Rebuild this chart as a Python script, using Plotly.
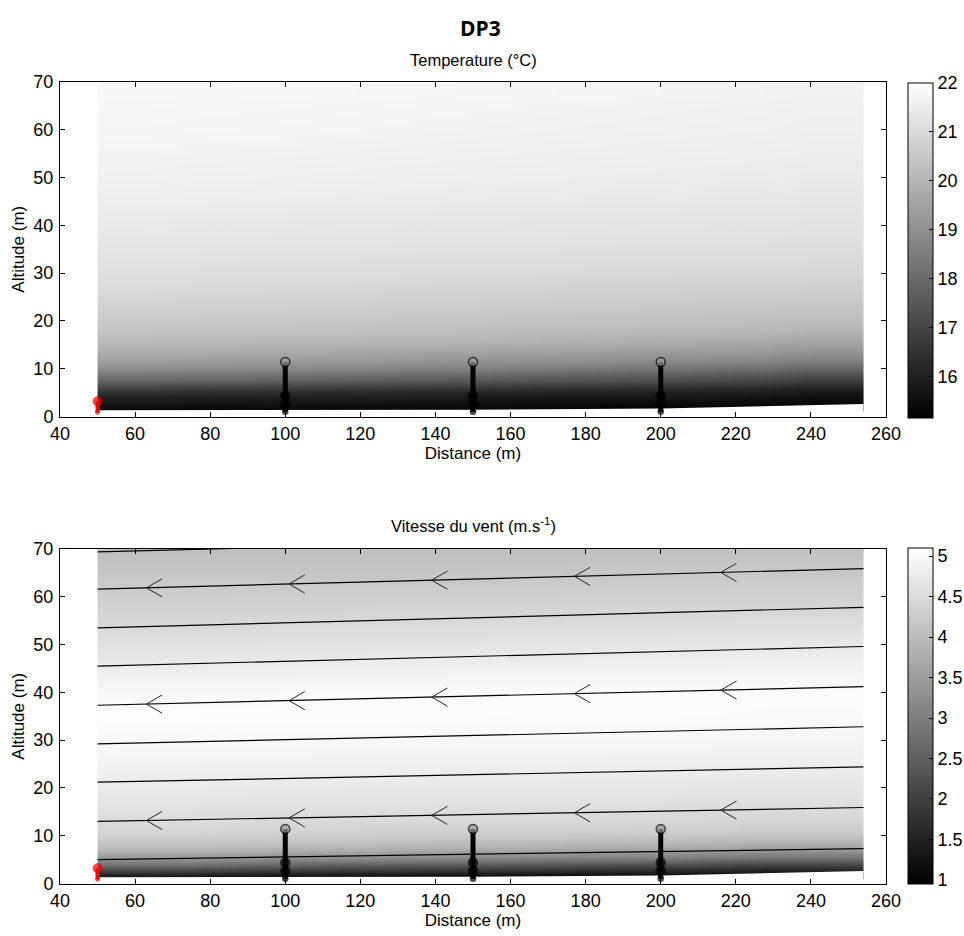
import numpy as np
import plotly.graph_objects as go

FONT = "Liberation Sans, Arial, sans-serif"

# ---------------- data ----------------
x_ticks = [40, 60, 80, 100, 120, 140, 160, 180, 200, 220, 240, 260]
alt_ticks = [0, 10, 20, 30, 40, 50, 60, 70]
temp_ticks = [16, 17, 18, 19, 20, 21, 22]
wind_ticks = [1, 1.5, 2, 2.5, 3, 3.5, 4, 4.5, 5]
wind_tick_text = ["1", "1.5", "2", "2.5", "3", "3.5", "4", "4.5", "5"]

temp_x = [50, 100, 150, 200, 254]
temp_alt = [1.0, 2, 3, 4, 5, 6, 7, 8, 10, 12, 14, 16, 18, 20, 25, 30, 35, 40, 50, 60, 70]
temp_vals = [
    [15.30, 15.30, 15.25, 15.20, 15.20],
    [15.50, 15.45, 15.40, 15.30, 15.25],
    [15.75, 15.70, 15.60, 15.50, 15.40],
    [16.00, 15.95, 15.85, 15.72, 15.55],
    [16.40, 16.30, 16.15, 16.00, 15.80],
    [17.00, 16.85, 16.65, 16.45, 16.15],
    [17.60, 17.45, 17.20, 16.95, 16.60],
    [18.15, 18.00, 17.75, 17.45, 17.05],
    [18.95, 18.80, 18.60, 18.30, 17.90],
    [19.50, 19.40, 19.20, 19.00, 18.70],
    [19.90, 19.80, 19.65, 19.45, 19.25],
    [20.20, 20.10, 20.00, 19.85, 19.65],
    [20.40, 20.35, 20.25, 20.15, 20.00],
    [20.60, 20.55, 20.45, 20.35, 20.25],
    [20.90, 20.85, 20.75, 20.65, 20.60],
    [21.15, 21.10, 21.00, 20.95, 20.90],
    [21.30, 21.25, 21.20, 21.15, 21.10],
    [21.45, 21.40, 21.35, 21.30, 21.25],
    [21.62, 21.58, 21.53, 21.48, 21.43],
    [21.74, 21.71, 21.66, 21.61, 21.56],
    [21.82, 21.79, 21.74, 21.69, 21.64],
]
temp_range = [15.15, 22.0]

wind_x = [50, 150, 254]
wind_alt = [1.0, 2, 3, 4, 5, 6, 8, 10, 12, 15, 20, 25, 30, 35, 40, 45, 50, 55, 60, 65, 70]
wind_vals = [
    [1.15, 1.05, 1.00],
    [1.60, 1.35, 1.15],
    [2.20, 1.90, 1.60],
    [2.80, 2.45, 2.10],
    [3.30, 3.00, 2.65],
    [3.70, 3.45, 3.15],
    [4.10, 3.95, 3.75],
    [4.35, 4.25, 4.15],
    [4.48, 4.42, 4.35],
    [4.60, 4.56, 4.52],
    [4.76, 4.72, 4.68],
    [4.88, 4.85, 4.82],
    [5.00, 4.97, 4.93],
    [5.06, 5.05, 5.02],
    [4.98, 5.02, 5.04],
    [4.80, 4.86, 4.90],
    [4.60, 4.66, 4.72],
    [4.44, 4.48, 4.52],
    [4.30, 4.32, 4.36],
    [4.18, 4.18, 4.22],
    [4.08, 4.08, 4.12],
]
wind_range = [0.95, 5.1]

ground_x = [50, 150, 200, 230, 254]
ground_z = [1.3, 1.4, 1.7, 2.2, 2.6]

stream_x = [50, 254]
stream_left_z = [69.4, 61.6, 53.5, 45.5, 37.3, 29.2, 21.2, 13.0, 5.0]
stream_right_z = [73.5, 65.9, 57.8, 49.6, 41.2, 32.8, 24.4, 15.9, 7.3]
arrow_lines = [1, 4, 7]
arrow_x = [63, 101, 139, 177, 216]

mast_x = [100, 150, 200]
mast_sensor_z = [1.0, 2.7, 4.4, 11.4]
ref_mast_x = 50
ref_sensor_z = [0.9, 3.2]

# ---------------- layout helpers ----------------
W, H = 964, 936


def px(xp):
    return xp / W


def py(yp):
    return 1 - yp / H


def edges(c):
    c = np.asarray(c, float)
    mids = (c[1:] + c[:-1]) / 2
    return np.concatenate([[c[0]], mids, [c[-1]]])


gray = [[0, "rgb(0,0,0)"], [1, "rgb(255,255,255)"]]

fig = go.Figure()

cb_common = dict(
    xanchor="left", yanchor="top", thickness=25, thicknessmode="pixels",
    lenmode="fraction", xpad=0, ypad=0, outlinecolor="black", outlinewidth=1,
    ticks="inside", ticklen=4, tickcolor="black",
    tickfont=dict(size=18, family=FONT, color="black"),
)

fig.add_trace(go.Heatmap(
    x=edges(temp_x), y=edges(temp_alt), z=temp_vals, zsmooth="best",
    colorscale=gray, zmin=temp_range[0], zmax=temp_range[1],
    xaxis="x", yaxis="y", hoverinfo="skip",
    colorbar=dict(x=px(908), y=py(83), len=(418 - 83) / H,
                  tickvals=temp_ticks, **cb_common),
))

fig.add_trace(go.Heatmap(
    x=edges(wind_x), y=edges(wind_alt), z=wind_vals, zsmooth="best",
    colorscale=gray, zmin=wind_range[0], zmax=wind_range[1],
    xaxis="x2", yaxis="y2", hoverinfo="skip",
    colorbar=dict(x=px(908), y=py(548), len=(884 - 548) / H,
                  tickvals=wind_ticks, ticktext=wind_tick_text, **cb_common),
))

# ground masks
for xa, ya in (("x", "y"), ("x2", "y2")):
    gx = list(ground_x) + [ground_x[-1], ground_x[0]]
    gz = list(ground_z) + [0, 0]
    fig.add_trace(go.Scatter(x=gx, y=gz, fill="toself", fillcolor="white",
                             mode="lines", line=dict(width=0, color="white"),
                             xaxis=xa, yaxis=ya, hoverinfo="skip", showlegend=False))

# streamlines
sx, sy = [], []
for zl, zr in zip(stream_left_z, stream_right_z):
    sx += [stream_x[0], stream_x[1], None]
    sy += [zl, zr, None]
fig.add_trace(go.Scatter(x=sx, y=sy, mode="lines", line=dict(color="black", width=1.2),
                         xaxis="x2", yaxis="y2", hoverinfo="skip", showlegend=False))

# arrowheads
ax_, ay_ = [], []
ARM_DX, ARM_DZ = 4.2, 1.9
for li in arrow_lines:
    zl, zr = stream_left_z[li], stream_right_z[li]
    for axp in arrow_x:
        z = zl + (zr - zl) * (axp - stream_x[0]) / (stream_x[1] - stream_x[0])
        ax_ += [axp + ARM_DX, axp, axp + ARM_DX, None]
        ay_ += [z + ARM_DZ, z, z - ARM_DZ, None]
fig.add_trace(go.Scatter(x=ax_, y=ay_, mode="lines", line=dict(color="#222222", width=1),
                         xaxis="x2", yaxis="y2", hoverinfo="skip", showlegend=False))

# masts
for xa, ya in (("x", "y"), ("x2", "y2")):
    for mx in mast_x:
        fig.add_trace(go.Scatter(
            x=[mx] * len(mast_sensor_z), y=mast_sensor_z, mode="lines+markers",
            line=dict(color="black", width=5),
            marker=dict(symbol="circle", size=[5, 9, 9, 9],
                        color=["black", "black", "black", "#9a9a9a"],
                        line=dict(width=1.5, color="black")),
            xaxis=xa, yaxis=ya, hoverinfo="skip", showlegend=False, cliponaxis=False))
    fig.add_trace(go.Scatter(
        x=[ref_mast_x] * len(ref_sensor_z), y=ref_sensor_z, mode="lines+markers",
        line=dict(color="red", width=4),
        marker=dict(symbol="circle", size=[4, 9], color="red",
                    line=dict(width=1, color="#cc0000")),
        xaxis=xa, yaxis=ya, hoverinfo="skip", showlegend=False, cliponaxis=False))

axis_common = dict(
    showline=True, linecolor="black", linewidth=1, mirror="ticks",
    ticks="inside", ticklen=5, tickcolor="black", showgrid=False, zeroline=False,
    tickfont=dict(size=18, family=FONT, color="black"),
)
xdom = [px(60), px(886)]
title_font = dict(size=17, family=FONT, color="black")
fig.update_layout(
    width=W, height=H,
    margin=dict(l=0, r=0, t=0, b=0, autoexpand=False),
    paper_bgcolor="white", plot_bgcolor="white",
    showlegend=False,
    font=dict(family=FONT, color="black"),
    xaxis=dict(domain=xdom, range=[40, 260], tickvals=x_ticks, anchor="y",
               ticklabelstandoff=1,
               title=dict(text="Distance (m)", font=title_font, standoff=4),
               **axis_common),
    yaxis=dict(domain=[py(416.5), py(82)], range=[0, 70], tickvals=alt_ticks, anchor="x",
               ticklabelstandoff=2,
               title=dict(text="Altitude (m)", font=title_font, standoff=4),
               **axis_common),
    xaxis2=dict(domain=xdom, range=[40, 260], tickvals=x_ticks, anchor="y2",
                ticklabelstandoff=1,
                title=dict(text="Distance (m)", font=title_font, standoff=4),
                **axis_common),
    yaxis2=dict(domain=[py(883.5), py(549)], range=[0, 70], tickvals=alt_ticks, anchor="x2",
                ticklabelstandoff=2,
                title=dict(text="Altitude (m)", font=title_font, standoff=4),
                **axis_common),
    annotations=[
        dict(text="<b>DP3</b>", x=px(480), y=py(28), xref="paper", yref="paper",
             showarrow=False, xanchor="center", yanchor="middle",
             font=dict(size=21, family="Open Sans, sans-serif", color="black")),
        dict(text="Temperature (°C)", x=px(473), y=py(60), xref="paper", yref="paper",
             showarrow=False, xanchor="center", yanchor="middle",
             font=dict(size=16.5, family=FONT, color="black")),
        dict(text="Vitesse du vent (m.s<sup>-1</sup>)", x=px(473), y=py(525),
             xref="paper", yref="paper", showarrow=False, xanchor="center", yanchor="middle",
             font=dict(size=16.5, family=FONT, color="black")),
    ],
)

fig.write_html(
    "out.html",
    config={"displayModeBar": False},
    post_script="document.body.style.margin='0';document.body.style.overflow='hidden';",
)
